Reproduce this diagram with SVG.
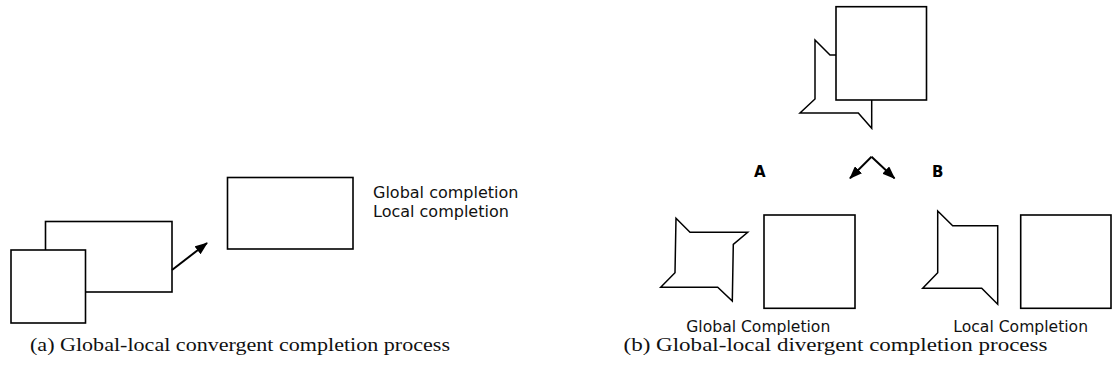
<svg xmlns="http://www.w3.org/2000/svg" width="1112" height="374" viewBox="0 0 1112 374">
<style>
.s{fill:#fff;stroke:#000;stroke-width:1.6;stroke-linejoin:miter}
.o{fill:none;stroke:#000;stroke-width:1.5}
.c{stroke:#000;stroke-width:2;fill:none}
.t{font-family:"DejaVu Sans",sans-serif;font-size:16px;fill:#111}
.u{font-family:"DejaVu Sans",sans-serif;font-size:15.6px;fill:#111}
.l{font-family:"DejaVu Sans",sans-serif;font-size:15px;font-weight:bold;fill:#000}
.cap{font-family:"Liberation Serif",serif;font-size:19px;fill:#111}
</style>
<defs>
<marker id="ah" markerWidth="13" markerHeight="10" refX="12" refY="5" orient="auto" markerUnits="userSpaceOnUse">
<path d="M0,0 L13,5 L0,10 Z" fill="#000"/>
</marker>
</defs>
<rect width="1112" height="374" fill="#fff"/>
<g id="a-back"><rect class="s" x="45.5" y="221.5" width="126.5" height="70.5"/></g>
<g id="a-front"><rect class="s" x="11" y="250" width="74.5" height="73"/></g>
<g id="a-target"><rect class="s" x="227.5" y="177.5" width="125.5" height="71.5"/></g>
<g id="a-labels">
<text class="t" x="373" y="198">Global completion</text>
<text class="t" x="373" y="216.5">Local completion</text>
</g>
<g id="b-top">
<path class="o" d="M836,55 L830,55 L815,40 L815,99 L800,113 L858.3,113 L871.7,128.3 L871.7,100"/>
<rect class="s" x="836" y="6.7" width="90.5" height="93.3"/>
</g>
<g id="b-A"><text class="l" x="754" y="177">A</text></g>
<g id="b-B"><text class="l" x="932" y="177">B</text></g>
<g id="b-global">
<polygon class="o" points="676,218.3 690,232.3 747.7,232.3 733.3,244.3 732.3,301 717.7,287.3 660.7,287.3 675,272.7"/>
<rect class="s" x="764" y="215" width="91" height="93.3"/>
<text class="u" x="758.3" y="332" text-anchor="middle">Global Completion</text>
</g>
<g id="b-local">
<polygon class="o" points="937.7,211 952.7,225.7 997.7,225.7 997.7,304.3 981.7,288.3 922.7,288.3 937.7,272.7"/>
<rect class="s" x="1020.7" y="215" width="90.3" height="93.3"/>
<text class="u" x="1020.7" y="332" text-anchor="middle">Local Completion</text>
</g>
<g id="connectors">
<line class="c" x1="172" y1="270" x2="207" y2="243" marker-end="url(#ah)"/>
<line class="c" x1="871.5" y1="156.7" x2="850" y2="178.3" marker-end="url(#ah)"/>
<line class="c" x1="871.5" y1="156.7" x2="894.5" y2="178.3" marker-end="url(#ah)"/>
</g>
<g id="captions">
<text class="cap" x="30" y="351" textLength="420" lengthAdjust="spacingAndGlyphs">(a) Global-local convergent completion process</text>
<text class="cap" x="623.5" y="351" textLength="424" lengthAdjust="spacingAndGlyphs">(b) Global-local divergent completion process</text>
</g>
</svg>
